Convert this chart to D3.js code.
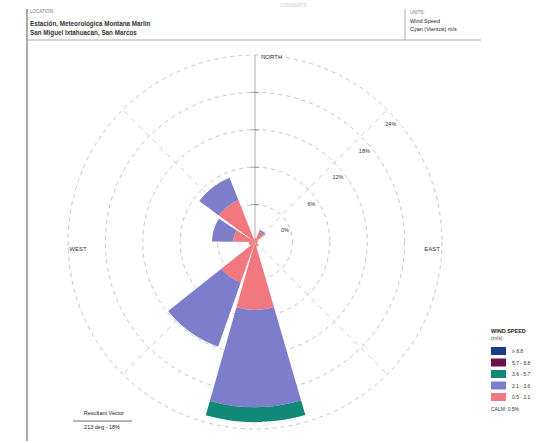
<!DOCTYPE html>
<html>
<head>
<meta charset="utf-8">
<script src="https://cdn.jsdelivr.net/npm/d3@7"></script>
<style>
  html,body{margin:0;padding:0;background:#fff;}
  svg{display:block;font-family:"Liberation Sans",Arial,sans-serif;}
</style>
</head>
<body>
<svg id="chart" width="552" height="443"></svg>
<script>
// ---- data ----
const directions = ["0°","36°","72°","108°","144°","180°","216°","252°","288°","324°"];
const speedBins = ["0.5 - 2.1","2.1 - 3.6","3.6 - 5.7","5.7 - 8.8","≥ 8.8"];
const bin1 = [0.6, 1.8, 0.5, 0.4, 0.8, 10.9, 6.9, 1.0, 3.5, 7.2];   // 0.5-2.1
const bin2 = [0.0, 0.3, 0.0, 0.0, 0.0, 15.6, 10.9, 0.0, 3.4, 3.9];  // 2.1-3.6
const bin3 = [0.0, 0.0, 0.0, 0.0, 0.0, 2.4, 0.0, 0.0, 0.0, 0.0];    // 3.6-5.7
const bin4 = [0.0, 0.0, 0.0, 0.0, 0.0, 0.0, 0.0, 0.0, 0.0, 0.0];    // 5.7-8.8
const bin5 = [0.0, 0.0, 0.0, 0.0, 0.0, 0.0, 0.0, 0.0, 0.0, 0.0];    // >= 8.8
const ringTicks = [6, 12, 18, 24, 30];
const tickLabels = ["0%", "6%", "12%", "18%", "24%"];
const tickLabelValues = [0, 6, 12, 18, 24];
const cardinalLabels = ["NORTH", "EAST", "SOUTH", "WEST"];
const calmText = "CALM: 0.5%";

const colors = ["#f0787e", "#7c7ecc", "#118878", "#6e1048", "#1c3b8c"];

const svg = d3.select("#chart");
const cx = 255, cy = 242, R = 187;

// ---- header ----
svg.append("line").attr("x1",27).attr("x2",27).attr("y1",9).attr("y2",441)
  .attr("stroke","#aaa").attr("stroke-width",2);
svg.append("line").attr("x1",27).attr("x2",481).attr("y1",40).attr("y2",40)
  .attr("stroke","#aaa").attr("stroke-width",1.2);
svg.append("line").attr("x1",405).attr("x2",405).attr("y1",9).attr("y2",40)
  .attr("stroke","#aaa").attr("stroke-width",1);
svg.append("text").attr("x",30).attr("y",13).attr("font-size",4.5).attr("fill","#777").text("LOCATION:");
svg.append("text").attr("x",30).attr("y",25.5).attr("font-size",6.3).attr("fill","#333").attr("font-weight","bold")
  .text("Estación, Meteorológica Montana Marlin");
svg.append("text").attr("x",30).attr("y",35).attr("font-size",6.3).attr("fill","#333").attr("font-weight","bold")
  .text("San Miguel Ixtahuacán, San Marcos");
svg.append("text").attr("x",410).attr("y",14).attr("font-size",4.5).attr("fill","#777").text("UNITS:");
svg.append("text").attr("x",410).attr("y",22.5).attr("font-size",5.5).attr("fill","#222").text("Wind Speed");
svg.append("text").attr("x",410).attr("y",30.5).attr("font-size",5.5).attr("fill","#222").text("Cyan (Vientos) m/s");
svg.append("text").attr("x",280).attr("y",7).attr("font-size",4.5).attr("fill","#ccc").text("COMMENTS:");

// ---- scales ----
const x = d3.scaleBand().domain(directions)
  .range([-Math.PI/10, 2*Math.PI - Math.PI/10]).padding(0.1);
const y = d3.scaleLinear().domain([0, 30]).range([0, R]);

const g = svg.append("g").attr("transform",`translate(${cx},${cy})`);

// ---- grid ----
g.selectAll("circle.ring").data(ringTicks).join("circle")
  .attr("r", d => y(d)).attr("fill","none")
  .attr("stroke","#b4b4b4").attr("stroke-width",0.8).attr("stroke-dasharray","4,4");
const spokes = [45, 135, 225, 315];
g.selectAll("line.spoke").data(spokes).join("line")
  .attr("x1",0).attr("y1",0)
  .attr("x2", d => R*Math.sin(d*Math.PI/180))
  .attr("y2", d => -R*Math.cos(d*Math.PI/180))
  .attr("stroke","#c4c4c4").attr("stroke-width",0.8).attr("stroke-dasharray","5,5");
g.append("line").attr("x1",0).attr("y1",0).attr("x2",0).attr("y2",-R)
  .attr("stroke","#999").attr("stroke-width",0.8);
g.selectAll("line.ntick").data(ringTicks.slice(0,4)).join("line")
  .attr("x1",-4).attr("x2",4).attr("y1",d=>-y(d)).attr("y2",d=>-y(d))
  .attr("stroke","#888").attr("stroke-width",0.8);

// ---- stacked wedges ----
const bins = [bin1, bin2, bin3, bin4, bin5];
const table = directions.map((d,i) => {
  const o = {dir: d};
  speedBins.forEach((b,j) => o[b] = bins[j][i]);
  return o;
});
const stack = d3.stack().keys(speedBins)(table);
const arc = d3.arc()
  .innerRadius(d => y(d[0])).outerRadius(d => y(d[1]))
  .startAngle(d => x(d.data.dir))
  .endAngle(d => x(d.data.dir) + x.bandwidth());
g.selectAll("g.layer").data(stack).join("g")
  .attr("fill", (d,i) => colors[i])
  .selectAll("path").data(d => d.filter(s => s[1] > s[0])).join("path")
  .attr("d", arc);

// ---- ring labels along NE ----
g.selectAll("text.tl").data(tickLabelValues).join("text")
  .attr("x", d => y(d)*Math.SQRT1_2 + 30)
  .attr("y", d => -y(d)*Math.SQRT1_2 - 10)
  .attr("text-anchor","middle").attr("font-size",5.5).attr("fill","#333")
  .text((d,i) => tickLabels[i]);

// ---- cardinal labels ----
g.append("text").attr("x",6).attr("y",-y(29.3)).attr("font-size",6).attr("fill","#333").text(cardinalLabels[0]);
g.append("text").attr("x",y(28.4)).attr("y",9).attr("text-anchor","middle").attr("font-size",6).attr("fill","#333").text(cardinalLabels[1]);
g.append("text").attr("x",7).attr("y",y(29.4)).attr("font-size",6).attr("fill","#e6f2f0").text(cardinalLabels[2]);
g.append("text").attr("x",-y(28.4)).attr("y",9).attr("text-anchor","middle").attr("font-size",6).attr("fill","#333").text(cardinalLabels[3]);

// ---- legend ----
const lg = svg.append("g").attr("transform","translate(491,333)");
lg.append("text").attr("x",0).attr("y",0).attr("font-size",5.5).attr("fill","#222").attr("font-weight","bold").text("WIND SPEED");
lg.append("text").attr("x",0).attr("y",7).attr("font-size",5).attr("fill","#444").text("(m/s)");
const legendOrder = speedBins.map((b,i)=>({b, c: colors[i]})).reverse();
const li = lg.selectAll("g.li").data(legendOrder).join("g")
  .attr("transform",(d,i)=>`translate(0,${14 + i*11.5})`);
li.append("rect").attr("width",15).attr("height",8).attr("fill",d=>d.c);
li.append("text").attr("x",21).attr("y",6).attr("font-size",5).attr("fill","#333").text(d=>d.b);
lg.append("text").attr("x",0).attr("y",78).attr("font-size",5).attr("fill","#333").text(calmText);

// ---- resultant vector ----
svg.append("text").attr("x",104).attr("y",415).attr("text-anchor","middle").attr("font-size",5.5).attr("fill","#222").text("Resultant Vector");
svg.append("line").attr("x1",73).attr("x2",132).attr("y1",421).attr("y2",421).attr("stroke","#444").attr("stroke-width",0.8);
svg.append("text").attr("x",102).attr("y",429).attr("text-anchor","middle").attr("font-size",5.5).attr("fill","#222").text("213 deg - 18%");
</script>
</body>
</html>
